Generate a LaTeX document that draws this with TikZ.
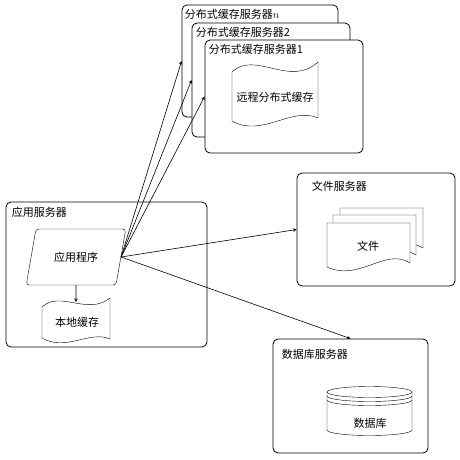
\documentclass[tikz,border=0pt]{standalone}
\usepackage{fontspec}
\setmainfont{Noto Sans CJK SC}
\usetikzlibrary{calc,shapes.geometric,arrows}

\begin{document}
\begin{tikzpicture}[x=1pt, y=-1pt, >=stealth,
    font=\fontsize{11}{13}\selectfont,
    server/.style={rectangle, rounded corners=5pt, draw, fill=white, line width=0.8pt},
    tag/.style={anchor=west, inner sep=0pt},
    link/.style={->, line width=0.6pt}]
    \useasboundingbox (0,0) rectangle (460,459);
    % distributed cache servers
    \node[server, minimum width=156pt, minimum height=112pt] (cn) at (260,61) {};
    \node[tag] (tn) at ($(cn.north west)+(3,10)$) {分布式缓存服务器$n$};
    \node[server, minimum width=158pt, minimum height=114pt] (c2) at (271,80) {};
    \node[tag] (t2) at ($(c2.north west)+(4,10)$) {分布式缓存服务器2};
    \node[server, minimum width=158pt, minimum height=113pt] (c1) at (284,96.5) {};
    \node[tag] (t1) at ($(c1.north west)+(4,10)$) {分布式缓存服务器1};
    \draw[fill=white] (232,72) .. controls (255,50) and (290,88) .. (318,62) -- (318,118)
        .. controls (292,106) and (262,138) .. (232,121) -- cycle;
    \node (rc) at (275,97) {远程分布式缓存};
    % application server
    \node[server, minimum width=201pt, minimum height=145pt] (as) at (106.5,274.5) {};
    \node[tag] (ta) at ($(as.north west)+(6,11)$) {应用服务器};
    \node[trapezium, trapezium left angle=70, trapezium right angle=110, trapezium stretches=true,
          minimum width=100pt, minimum height=56pt, draw, fill=white, rounded corners=3pt] (ap) at (76,257) {应用程序};
    \draw[fill=white] (42,307) .. controls (60,290) and (88,316) .. (110,298) -- (110,339)
        .. controls (90,330) and (66,352) .. (42,338) -- cycle;
    \node (lc) at (77,322) {本地缓存};
    \coordinate (lt) at (76,302);
    % file server
    \node[server, minimum width=158pt, minimum height=113pt] (fs) at (376,229.5) {};
    \node[tag] (tf) at ($(fs.north west)+(15,14)$) {文件服务器};
    \foreach \dx/\dy in {13/-15, 6/-8, 0/0} {
        \begin{scope}[shift={(327+\dx,223+\dy)}]
            \draw[fill=white] (0,0) -- (83,0) -- (83,40) .. controls (58,24) and (33,59) .. (0,44) -- cycle;
        \end{scope}
    }
    \node (fd) at (368,246) {文件};
    % database server
    \node[server, minimum width=155pt, minimum height=114pt] (ds) at (350.5,396) {};
    \node[tag] (td) at ($(ds.north west)+(9,16)$) {数据库服务器};
    \draw[fill=white] (327,392) -- (327,430) arc[start angle=180, end angle=360, x radius=42.5pt, y radius=5.5pt] -- (412,392);
    \draw (369.5,392) ellipse [x radius=42.5pt, y radius=5.5pt];
    \draw (327,396) arc[start angle=180, end angle=360, x radius=42.5pt, y radius=5.5pt];
    \draw (327,400) arc[start angle=180, end angle=360, x radius=42.5pt, y radius=5.5pt];
    \node (db) at (370,423) {数据库};
    % links
    \draw[link] (ap.south) -- (lt);
    \draw[link] (ap.east) -- (cn.west);
    \draw[link] (ap.east) -- (c2.west);
    \draw[link] (ap.east) -- (c1.west);
    \draw[link] (ap.east) -- (fs.west);
    \draw[link] (ap.east) -- (ds.north);
\end{tikzpicture}
\end{document}
